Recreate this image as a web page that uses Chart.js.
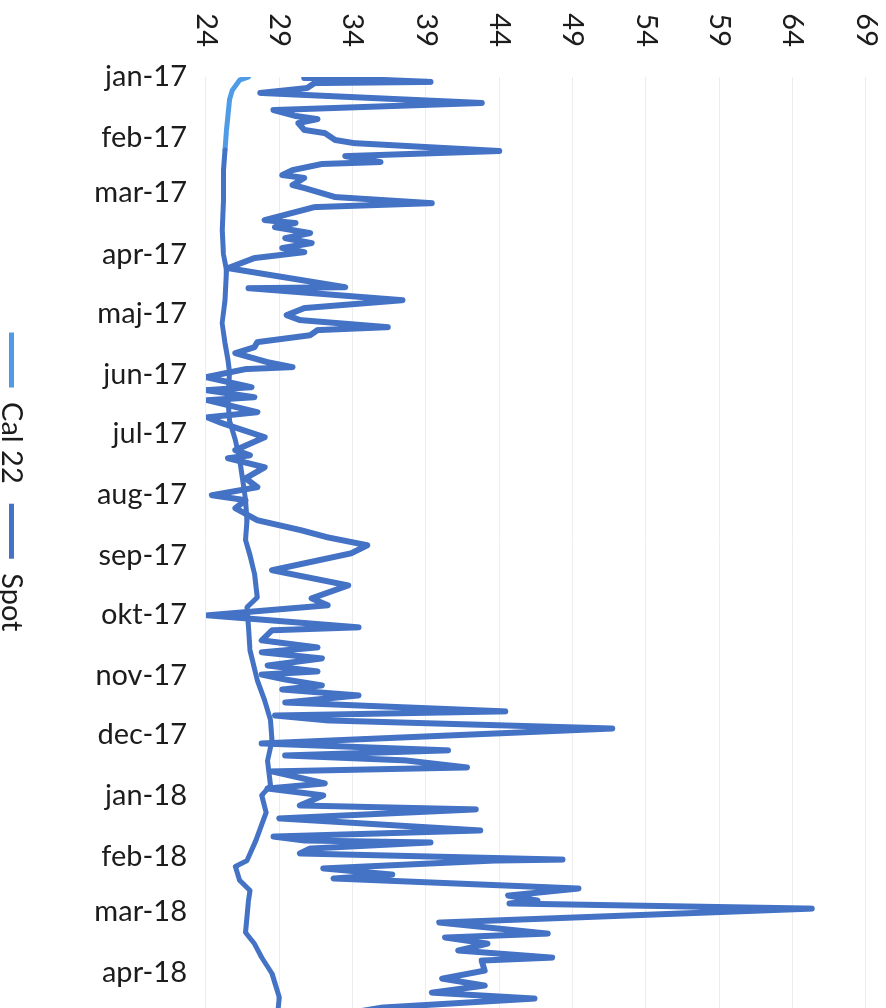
<!DOCTYPE html>
<html>
<head>
<meta charset="utf-8">
<script src="https://cdn.jsdelivr.net/npm/chart.js@4"></script>
<style>
  html, body { margin: 0; padding: 0; background: #fff; overflow: hidden; }
  /* the chart is drawn as a normal line chart and turned a quarter clockwise */
  #wrap {
    position: absolute; left: 0; top: 0; width: 1008px; height: 886px;
    transform-origin: 0 0; transform: translate(886px, 0) rotate(90deg);
  }
</style>
</head>
<body>
<div id="wrap"><canvas id="priceChart" width="1008" height="886"></canvas></div>
<script>
const monthLabels = ['jan-17', 'feb-17', 'mar-17', 'apr-17', 'maj-17', 'jun-17', 'jul-17', 'aug-17',
  'sep-17', 'okt-17', 'nov-17', 'dec-17', 'jan-18', 'feb-18', 'mar-18', 'apr-18'];
// day number (from 1 jan 2017) of each month start
const monthStartDays = [0, 31, 59, 90, 120, 151, 181, 212, 243, 273, 304, 334, 365, 396, 424, 455];
const valueTicks = [24, 29, 34, 39, 44, 49, 54, 59, 64, 69];

// [day, price]
const calPoints = [
  [0, 26.9], [1.5, 26.3], [6.6, 25.8], [11.7, 25.6], [19.3, 25.5], [26.9, 25.4], [37.1, 25.3],
  [47.3, 25.2], [62.5, 25.2], [77.8, 25.1], [90.5, 25.2], [98.1, 25.4], [113.4, 25.3], [125.1, 25.1],
  [135.2, 25.3], [143.9, 25.5], [150, 25.6], [164.2, 25.5], [174.4, 25.6], [184.5, 26.0], [194.7, 26.3],
  [204.9, 26.5], [215, 26.7], [225.2, 26.8], [235.4, 26.7], [243, 27.0], [252.2, 27.3], [264.4, 27.5],
  [269.4, 26.8], [279.6, 26.9], [291.3, 27.0], [306.6, 27.5], [316.7, 28.0], [326.9, 28.4], [337.1, 28.5],
  [347.2, 28.2], [359.9, 28.4], [365, 27.8], [373.7, 28.1], [387.9, 27.4], [398.1, 26.8], [401.1, 26.0],
  [408.2, 26.3], [413.3, 27.0], [418.4, 26.9], [434.7, 26.7], [440.3, 27.3], [447.4, 27.8], [455.5, 28.5],
  [467.7, 29.0], [474.3, 28.9]
];

const spotPoints = [
  [0, 30.7], [0.5, 32.8], [2.5, 39.3], [3.1, 31.4], [5.6, 30.9], [8.1, 27.7], [13.2, 42.8], [16.8, 28.6],
  [19.8, 30.1], [21.4, 31.6], [23.4, 30.3], [26.9, 30.7], [28.5, 32.1], [32, 32.8], [33.6, 34.1], [37.6, 44.0],
  [40.2, 33.5], [43.2, 35.9], [44.2, 31.9], [47.3, 29.9], [49.8, 29.2], [51.3, 30.7], [54.9, 29.9], [56.4, 30.7],
  [61, 32.8], [64.1, 39.4], [66.1, 31.4], [72.7, 28.0], [74.2, 30.1], [76.3, 28.7], [79.3, 31.1], [81.9, 29.4],
  [84.4, 31.2], [86.9, 29.2], [89, 30.7], [92, 27.3], [97.1, 25.5], [106.8, 33.5], [107.3, 26.9], [113.4, 37.4],
  [117.4, 30.7], [121, 29.5], [123.5, 30.4], [127.1, 36.4], [128.6, 31.6], [131.2, 31.1], [134.7, 27.5],
  [137.3, 27.3], [140.3, 26.0], [144.9, 28.2], [147.4, 29.9], [148.4, 26.7], [152.5, 24.0], [157.6, 27.1],
  [159.1, 24.0], [162.7, 27.3], [164.2, 24.1], [170.3, 27.5], [172.9, 24.1], [175.9, 25.1], [183, 28.0],
  [189.6, 26.0], [192.2, 27.0], [193.7, 25.5], [198.3, 28.0], [203.9, 26.7], [208.4, 27.5], [212.5, 24.4],
  [215, 26.7], [219.1, 26.0], [225.2, 27.5], [230.3, 30.5], [233.9, 32.3], [237.9, 35.0], [242, 33.9],
  [250.6, 28.5], [258.3, 33.7], [264.9, 31.2], [268.4, 32.3], [273.5, 24.1], [279.6, 34.4], [281.1, 28.5],
  [286.2, 27.8], [289.8, 31.6], [292.3, 27.8], [295.4, 31.9], [299, 28.2], [302, 31.6], [303.6, 27.8],
  [306.1, 29.4], [309.1, 31.9], [311.2, 29.2], [314.2, 34.4], [317.8, 29.4], [322.3, 44.4], [324.4, 28.7],
  [326.9, 32.3], [331, 51.7], [338.6, 27.8], [342.1, 40.5], [344.7, 29.4], [347.2, 37.6], [350.8, 41.8],
  [352.8, 28.5], [358.9, 32.1], [361.5, 28.2], [365, 32.0], [370.1, 30.4], [372.1, 42.4], [376.7, 29.0],
  [382.8, 42.7], [385.9, 28.6], [387.9, 30.7], [388.9, 39.3], [392, 31.1], [394.5, 30.4], [397.6, 48.3],
  [398.1, 43.6], [402.1, 32.0], [405.2, 36.7], [407.2, 32.7], [412.3, 49.4], [415.9, 44.6], [418.4, 46.6],
  [419.9, 44.7], [422.5, 65.3], [429.6, 39.9], [435.2, 47.3], [437.2, 40.3], [440.3, 43.2], [443.8, 41.2],
  [447.4, 47.6], [448.9, 42.8], [454, 43.0], [458.1, 40.1], [461.6, 43.0], [465.2, 39.4], [468.2, 46.4],
  [472.8, 36.0], [476.4, 33.1]
];

const calLight = '#4f9be6';
const calDark = '#4472c4';
const spotColor = '#4472c4';
const textColor = '#1c1c1c';
const font = { family: 'Lato', size: 29 };

// legend sits a bit left of centre and low, as in the picture
const legendShift = {
  id: 'legendShift',
  afterLayout(chart) {
    const lg = chart.legend;
    lg.left -= 22; lg.right -= 22;
    lg.top += 13; lg.bottom += 13;
  }
};

new Chart(document.getElementById('priceChart'), {
  type: 'line',
  data: {
    datasets: [{
      label: 'Cal 22',
      data: calPoints.map(([x, y]) => ({ x, y })),
      borderColor: calDark,
      backgroundColor: calLight,
      borderWidth: 5,
      segment: { borderColor: ctx => (ctx.p0.parsed.x < 30 ? calLight : calDark) }
    }, {
      label: 'Spot',
      data: spotPoints.map(([x, y]) => ({ x, y })),
      borderColor: spotColor,
      backgroundColor: spotColor,
      borderWidth: 6
    }]
  },
  options: {
    responsive: false,
    animation: false,
    events: [],
    layout: { padding: { top: 20, right: 0, left: 0, bottom: 0 } },
    elements: {
      point: { radius: 0 },
      line: { tension: 0, borderJoinStyle: 'round', borderCapStyle: 'round' }
    },
    plugins: {
      tooltip: { enabled: false },
      legend: {
        position: 'bottom',
        labels: {
          color: textColor,
          font: font,
          boxWidth: 55,
          boxHeight: 5,
          padding: 20,
          generateLabels: chart => Chart.defaults.plugins.legend.labels.generateLabels(chart)
            .map(l => Object.assign(l, { lineWidth: 0 }))
        }
      }
    },
    scales: {
      x: {
        type: 'linear',
        min: 0,
        max: 473,
        afterBuildTicks: scale => { scale.ticks = monthStartDays.map(v => ({ value: v })); },
        afterFit: scale => {
          scale.height = 147;
          scale.paddingLeft = 0;
          scale.paddingRight = 0;
        },
        grid: { display: false, drawTicks: false },
        border: { display: false },
        ticks: {
          autoSkip: false,
          minRotation: 90,
          maxRotation: 90,
          padding: 19,
          color: textColor,
          font: font,
          callback: value => monthLabels[monthStartDays.indexOf(value)]
        }
      },
      y: {
        min: valueTicks[0],
        max: valueTicks[valueTicks.length - 1],
        afterBuildTicks: scale => { scale.ticks = valueTicks.map(v => ({ value: v })); },
        afterFit: scale => {
          scale.width = 77;
          scale.paddingTop = 0;
          scale.paddingBottom = 0;
        },
        grid: { color: '#ededed', lineWidth: 1, drawTicks: false },
        border: { display: false },
        ticks: { padding: 30, color: textColor, font: font }
      }
    }
  },
  plugins: [legendShift]
});
</script>
</body>
</html>
